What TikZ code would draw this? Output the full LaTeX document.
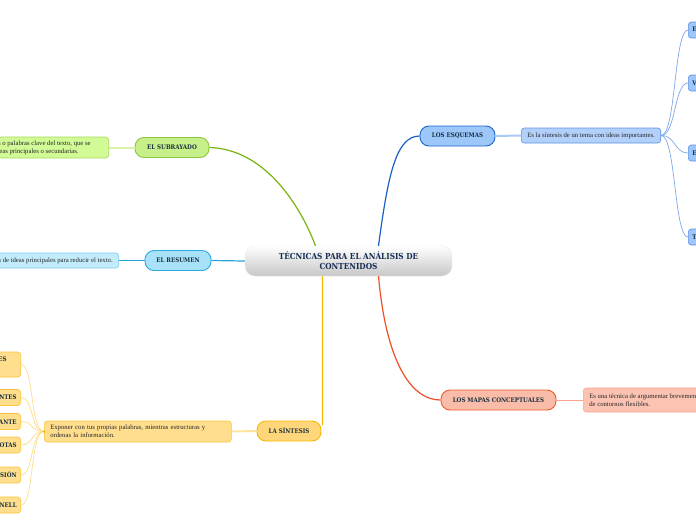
\documentclass[tikz,border=0pt]{standalone}
\usepackage{fontspec}
\usetikzlibrary{calc}
\newfontfamily\labf{DejaVu Serif}[FakeStretch=0.88]
\newfontfamily\descf{Liberation Serif}
\definecolor{ink}{HTML}{16303F}
\definecolor{gB}{HTML}{8DC63F}\definecolor{gF}{HTML}{C8F08A}\definecolor{gL}{HTML}{78B40F}
\definecolor{gDF}{HTML}{D2FA96}\definecolor{gDB}{HTML}{A6DB55}\definecolor{gC}{HTML}{D8F2A8}
\definecolor{cB}{HTML}{2EA8E0}\definecolor{cF}{HTML}{A8E2F8}\definecolor{cL}{HTML}{29A3DB}
\definecolor{cDF}{HTML}{C2ECFB}\definecolor{cDB}{HTML}{7DCDF0}
\definecolor{yB}{HTML}{F5B800}\definecolor{yF}{HTML}{FFD77A}\definecolor{yL}{HTML}{F5B800}
\definecolor{yDF}{HTML}{FFDF8E}\definecolor{yDB}{HTML}{F9C43A}\definecolor{yC}{HTML}{FFE3A0}
\definecolor{bB}{HTML}{1A67D0}\definecolor{bF}{HTML}{9DC6F9}\definecolor{bL}{HTML}{1A5FC6}
\definecolor{bDF}{HTML}{B2D0FA}\definecolor{bDB}{HTML}{5E92E6}\definecolor{bC}{HTML}{A9C8F7}
\definecolor{rB}{HTML}{EF5A2A}\definecolor{rF}{HTML}{F9BCA8}\definecolor{rL}{HTML}{EE5025}
\definecolor{rDF}{HTML}{FCC3B2}\definecolor{rDB}{HTML}{F8A58B}
\tikzset{
  topic/.style={draw, line width=0.9pt, rounded corners=9pt, minimum height=20pt,
    inner sep=2pt, font=\labf\bfseries\fontsize{6.3}{7}\selectfont, text=ink},
  desc/.style={draw, line width=0.6pt, rounded corners=3pt, inner xsep=6pt, inner ysep=3pt,
    font=\descf\fontsize{6.7}{8}\selectfont, text=black!85, align=left},
  leaf/.style={draw, line width=0.6pt, rounded corners=3pt, minimum height=16pt, inner xsep=4pt,
    inner ysep=2pt, font=\labf\bfseries\fontsize{6.3}{7}\selectfont, text=ink},
  br/.style={line width=1.2pt},
  sub/.style={line width=0.7pt}
}
\begin{document}
\begin{tikzpicture}[x=1pt,y=-1pt]
\useasboundingbox (0,0) rectangle (696,520);
\clip (0,0) rectangle (696,520);
\fill[white] (0,0) rectangle (696,520);
% center
\node[rounded corners=10pt, minimum width=207pt, minimum height=30pt, top color=white, bottom color=black!22,
  draw=black!8, font=\labf\bfseries\fontsize{8.3}{10}\selectfont, text=ink!90!blue, align=center, inner sep=2pt]
  (c) at (348.5,261) {TÉCNICAS PARA EL ANÁLISIS DE\\CONTENIDOS};
% subrayado
\node[topic, draw=gB, fill=gF, minimum width=74pt] (sb) at (172,147.5) {EL SUBRAYADO};
\node[desc, draw=gDB, fill=gDF, anchor=east, minimum height=21pt, inner xsep=4pt] (sbd) at (109,147.5)
  {\llap{Consiste en destacar las ideas }o palabras clave del texto, que se\kern14pt\\
   \llap{consideran las ide}as principales o secundarias.};
\draw[line width=2pt, gC] (sb.west) -- (sbd.east);
\draw[br, gL] ($(c.north)+(-33,0)$) .. controls (298,200) and (262,149) .. (sb.east);
% resumen
\node[topic, draw=cB, fill=cF, minimum width=66pt] (rs) at (178,260.5) {EL RESUMEN};
\node[desc, draw=cDB, fill=cDF, anchor=east, minimum height=15pt] (rsd) at (119,260.5)
  {Es una selección de ideas principales para reducir el texto.};
\draw[sub, cL] (rsd.east) -- (rs.west);
\draw[br, cL] (c.west) -- (rs.east);
% sintesis
\node[topic, draw=yB, fill=yF, minimum width=64pt] (sn) at (289,431) {LA SÍNTESIS};
\node[desc, draw=yDB, fill=yDF, anchor=west, minimum height=21pt, text width=175pt] (snd) at (44,431.5)
  {Exponer con tus propias palabras, mientras estructuras y\\ordenas la información.};
\draw[line width=2pt, yC] (snd.east) -- (sn.west);
\draw[br, yL] ($(c.south)+(-26,0)$) -- ($(sn.east)+(1,-6)$);
\node[leaf, draw=yDB, fill=yDF, anchor=east, minimum height=25pt, align=left] (l1) at (21,364.5)
  {MAPAS MENTALES\kern10pt\\[1pt]\strut};
\node[leaf, draw=yDB, fill=yDF, anchor=east] (l2) at (21,397.5) {IDEAS IMPORTANTES};
\node[leaf, draw=yDB, fill=yDF, anchor=east] (l3) at (21,421.5) {LO MÁS IMPORTANTE};
\node[leaf, draw=yDB, fill=yDF, anchor=east] (l4) at (21,445) {TOMA DE NOTAS};
\node[leaf, draw=yDB, fill=yDF, anchor=east] (l5) at (21,475) {CONCLUSIÓN};
\node[leaf, draw=yDB, fill=yDF, anchor=east] (l6) at (21,505) {MÉTODO CORNELL};
\foreach \n in {l1,l2,l3,l4,l5,l6}
  \draw[sub, yC!80!yDB] (snd.west) .. controls (30,431.5) and (34,0 |- \n.east) .. (\n.east);
\fill[yB] (snd.west) circle (1.3pt);
% esquemas
\node[topic, draw=bB, fill=bF, minimum width=75pt] (eq) at (457.5,136) {LOS ESQUEMAS};
\node[desc, draw=bDB, fill=bDF, anchor=west, minimum height=15pt] (eqd) at (521,135.5)
  {Es la síntesis de un tema con ideas importantes.};
\draw[line width=2pt, bC] (eq.east) -- (eqd.west);
\draw[br, bL] ($(c.north)+(30,0)$) .. controls (388,175) and (396,136) .. (eq.west);
\node[leaf, draw=bDB, fill=bF, anchor=west] (r1) at (688,30) {ESQUEMA DE LLAVES};
\node[leaf, draw=bDB, fill=bF, anchor=west] (r2) at (688,83) {VERTICAL};
\node[leaf, draw=bDB, fill=bF, anchor=west] (r3) at (688,153) {ESQUEMA NUMÉRICO};
\node[leaf, draw=bDB, fill=bF, anchor=west] (r4) at (688,237) {TIPOS};
\foreach \n in {r1,r2,r3,r4}
  \draw[sub, bDB!80!white] (eqd.east) .. controls (676,135.5) and (674,0 |- \n.west) .. (\n.west);
% mapas
\node[topic, draw=rB, fill=rF, minimum width=115pt] (mp) at (498.5,400) {LOS MAPAS CONCEPTUALES};
\node[desc, draw=rDB, fill=rDF, anchor=west, minimum height=24pt] (mpd) at (583,400)
  {Es una técnica de argumentar brevemente ideas\\de contornos flexibles.};
\draw[sub, rDB] (mp.east) -- (mpd.west);
\draw[br, rL] ($(c.south)+(30,0)$) .. controls (386,360) and (410,400) .. (mp.west);
\end{tikzpicture}
\end{document}
